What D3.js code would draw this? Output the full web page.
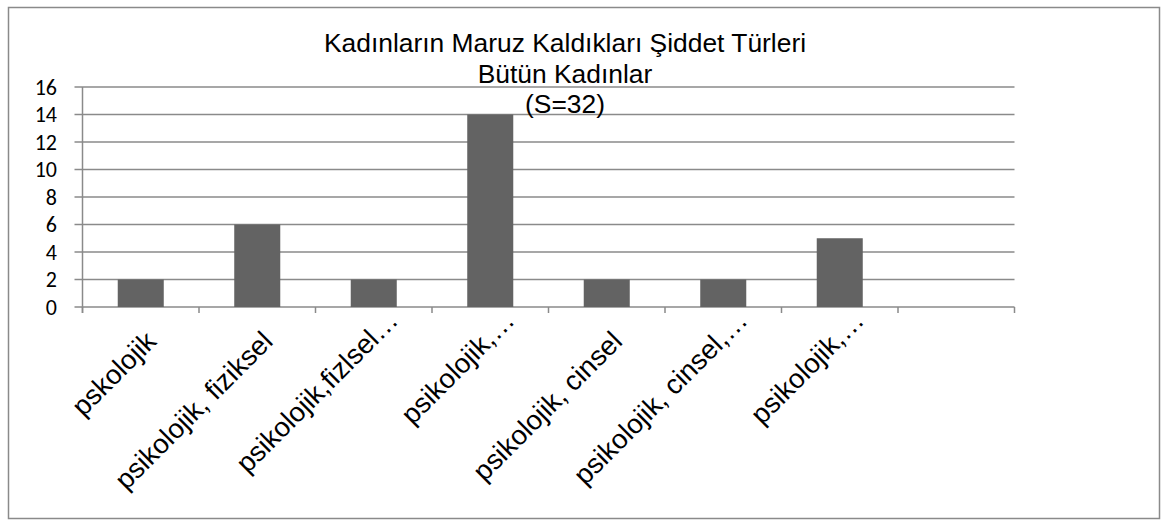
<!DOCTYPE html>
<html>
<head>
<meta charset="utf-8">
<script src="https://cdn.jsdelivr.net/npm/d3@7"></script>
<style>
  html, body { margin: 0; padding: 0; background: #fff; }
  svg { display: block; }
</style>
</head>
<body>
<svg id="chart" width="1162" height="521"></svg>
<script>
const titleLines = ["Kadınların Maruz Kaldıkları Şiddet Türleri", "Bütün Kadınlar", "(S=32)"];
const categories = ["pskolojik", "psikolojik, fiziksel", "psikolojik,fizlsel…", "psikolojik,…", "psikolojik, cinsel", "psikolojik, cinsel,…", "psikolojik,…", ""];
const categoryKeys = ["c1", "c2", "c3", "c4", "c5", "c6", "c7", "c8"];
const values = [2, 6, 2, 14, 2, 2, 5, null];
const yTicks = [0, 2, 4, 6, 8, 10, 12, 14, 16];

(function () {
const svg = d3.select("#chart");
const pL = 82.5, pR = 1014.5, pT = 87, pB = 307;
const gray = "#8a8a8a";

svg.append("rect").attr("x", 8.5).attr("y", 7.5).attr("width", 1151).attr("height", 511)
  .attr("fill", "#fff").attr("stroke", gray).attr("stroke-width", 1.5);

const x = d3.scaleBand().domain(categoryKeys).range([pL, pR]).padding(0);
const y = d3.scaleLinear().domain([0, 16]).range([pB, pT]);

// gridlines
svg.append("g").selectAll("line").data(yTicks).join("line")
  .attr("x1", pL - 8).attr("x2", pR)
  .attr("y1", d => y(d)).attr("y2", d => y(d))
  .attr("stroke", gray).attr("stroke-width", 1.5);

// y axis line
svg.append("line").attr("x1", pL).attr("x2", pL).attr("y1", pT).attr("y2", pB + 6)
  .attr("stroke", gray).attr("stroke-width", 1.5);

// x tick marks at category boundaries
const bounds = categoryKeys.map(k => x(k)).concat([pR]);
svg.append("g").selectAll("line").data(bounds).join("line")
  .attr("x1", d => d).attr("x2", d => d).attr("y1", pB).attr("y2", pB + 6)
  .attr("stroke", gray).attr("stroke-width", 1.5);

// bars
const barW = x.bandwidth() * 0.395;
svg.append("g").selectAll("rect").data(values.map((v, i) => ({v, k: categoryKeys[i]})).filter(d => d.v != null))
  .join("rect")
  .attr("x", d => x(d.k) + x.bandwidth() / 2 - barW / 2)
  .attr("width", barW)
  .attr("y", d => y(d.v))
  .attr("height", d => y(0) - y(d.v))
  .attr("fill", "#636363");

// y labels
svg.append("g").selectAll("text").data(yTicks).join("text")
  .attr("x", 57).attr("y", d => y(d)).attr("dy", "0.35em")
  .attr("text-anchor", "end")
  .attr("font-family", "Carlito, Calibri, 'Liberation Sans', Arial, sans-serif")
  .attr("font-size", 22).attr("fill", "#000")
  .text(d => d);

// x labels (rotated -45deg, end anchored near the category centre)
svg.append("g").selectAll("text").data(categories.map((c, i) => ({c, k: categoryKeys[i]}))).join("text")
  .attr("transform", d => {
    const cx = x(d.k) + x.bandwidth() / 2;
    const trunc = d.c.endsWith("…");
    const ax = cx + (trunc ? 26 : 17);
    const ay = pB + (trunc ? 15 : 36);
    return `translate(${ax},${ay}) rotate(-45)`;
  })
  .attr("text-anchor", "end")
  .attr("font-family", "'Liberation Sans', Arial, sans-serif")
  .attr("font-size", 27.5).attr("fill", "#000")
  .text(d => d.c);

// title
svg.append("g").selectAll("text").data(titleLines).join("text")
  .attr("x", 565).attr("y", (d, i) => 51.7 + i * 30.8)
  .attr("text-anchor", "middle")
  .attr("font-family", "'Liberation Sans', Arial, sans-serif")
  .attr("font-size", 26.4).attr("fill", "#000")
  .text(d => d);
})();
</script>
</body>
</html>
